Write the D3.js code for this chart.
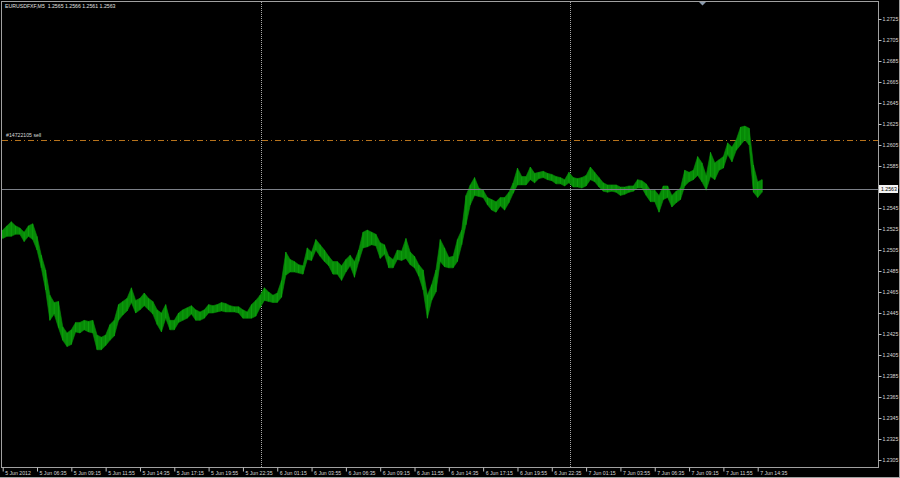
<!DOCTYPE html>
<html><head><meta charset="utf-8">
<script src="https://cdn.jsdelivr.net/npm/d3@7"></script>
<style>html,body{margin:0;padding:0;background:#000;overflow:hidden}svg{display:block}</style>
</head><body>
<svg id="c" width="900" height="478"></svg>
<script>
// ---- data ----
const symbolTitle = "EURUSDFXF,M5  1.2565 1.2566 1.2561 1.2563";
const startTime = "2012-06-05 03:55";
const stepMinutes = 20;
const highs = [1.2524,1.2528,1.2532,1.2528,1.2526,1.2522,1.2528,1.2530,1.2518,1.2500,
1.2486,1.2462,1.2455,1.2456,1.2432,1.2426,1.2429,1.2436,1.2436,1.2438,
1.2437,1.2438,1.2424,1.2422,1.2424,1.2434,1.2438,1.2453,1.2456,1.2459,
1.2469,1.2457,1.2459,1.2464,1.2459,1.2456,1.2448,1.2445,1.2453,1.2438,
1.2438,1.2445,1.2448,1.2450,1.2452,1.2448,1.2446,1.2448,1.2453,1.2452,
1.2453,1.2455,1.2454,1.2452,1.2451,1.2451,1.2448,1.2446,1.2453,1.2457,
1.2462,1.2469,1.2465,1.2462,1.2464,1.2476,1.2503,1.2496,1.2494,1.2491,
1.2490,1.2507,1.2503,1.2515,1.2510,1.2505,1.2499,1.2494,1.2494,1.2490,
1.2496,1.2500,1.2494,1.2505,1.2522,1.2524,1.2522,1.2520,1.2512,1.2510,
1.2499,1.2496,1.2505,1.2504,1.2516,1.2503,1.2499,1.2491,1.2486,1.2462,
1.2472,1.2486,1.2515,1.2507,1.2498,1.2499,1.2515,1.2524,1.2557,1.2567,
1.2574,1.2564,1.2562,1.2555,1.2553,1.2551,1.2555,1.2555,1.2560,1.2569,
1.2583,1.2575,1.2575,1.2584,1.2578,1.2579,1.2580,1.2578,1.2577,1.2575,
1.2574,1.2572,1.2579,1.2574,1.2573,1.2574,1.2576,1.2584,1.2579,1.2574,
1.2569,1.2567,1.2567,1.2567,1.2565,1.2565,1.2566,1.2566,1.2572,1.2571,
1.2568,1.2562,1.2562,1.2557,1.2566,1.2566,1.2557,1.2561,1.2564,1.2581,
1.2579,1.2581,1.2594,1.2588,1.2576,1.2598,1.2588,1.2591,1.2594,1.2607,
1.2603,1.2610,1.2622,1.2623,1.2621,1.2586,1.2570,1.2572];
const lows = [1.2516,1.2518,1.2518,1.2520,1.2520,1.2513,1.2518,1.2515,1.2505,1.2488,
1.2467,1.2438,1.2444,1.2431,1.2419,1.2413,1.2415,1.2427,1.2426,1.2429,
1.2427,1.2426,1.2410,1.2410,1.2414,1.2419,1.2423,1.2438,1.2443,1.2447,
1.2455,1.2445,1.2448,1.2452,1.2448,1.2444,1.2434,1.2427,1.2440,1.2429,
1.2429,1.2436,1.2438,1.2440,1.2444,1.2438,1.2438,1.2440,1.2445,1.2445,
1.2446,1.2447,1.2446,1.2446,1.2446,1.2445,1.2440,1.2440,1.2440,1.2442,
1.2450,1.2457,1.2456,1.2455,1.2455,1.2460,1.2481,1.2484,1.2484,1.2483,
1.2482,1.2496,1.2495,1.2505,1.2499,1.2494,1.2490,1.2482,1.2482,1.2476,
1.2484,1.2490,1.2479,1.2494,1.2507,1.2508,1.2510,1.2509,1.2497,1.2501,
1.2488,1.2488,1.2496,1.2495,1.2497,1.2491,1.2488,1.2480,1.2467,1.2440,
1.2457,1.2465,1.2494,1.2489,1.2488,1.2488,1.2494,1.2510,1.2529,1.2548,
1.2557,1.2556,1.2555,1.2548,1.2543,1.2541,1.2547,1.2543,1.2550,1.2559,
1.2567,1.2567,1.2567,1.2572,1.2569,1.2573,1.2574,1.2572,1.2571,1.2568,
1.2568,1.2566,1.2569,1.2565,1.2565,1.2564,1.2566,1.2572,1.2570,1.2565,
1.2561,1.2560,1.2561,1.2560,1.2557,1.2558,1.2560,1.2561,1.2564,1.2564,
1.2557,1.2551,1.2551,1.2541,1.2553,1.2555,1.2546,1.2550,1.2553,1.2566,
1.2570,1.2572,1.2576,1.2570,1.2562,1.2575,1.2572,1.2581,1.2583,1.2596,
1.2589,1.2600,1.2605,1.2610,1.2605,1.2560,1.2555,1.2560];
const priceTicks = [1.2305,1.2325,1.2345,1.2365,1.2385,1.2405,1.2425,1.2445,1.2465,1.2485,
1.2505,1.2525,1.2545,1.2565,1.2585,1.2605,1.2625,1.2645,1.2665,1.2685,1.2705,1.2725];
const timeTicks = ["2012-06-05 03:55","2012-06-05 06:35","2012-06-05 09:15","2012-06-05 11:55","2012-06-05 14:35",
"2012-06-05 17:15","2012-06-05 19:55","2012-06-05 22:35","2012-06-06 01:15","2012-06-06 03:55",
"2012-06-06 06:35","2012-06-06 09:15","2012-06-06 11:55","2012-06-06 14:35","2012-06-06 17:15",
"2012-06-06 19:55","2012-06-06 22:35","2012-06-07 01:15","2012-06-07 03:55","2012-06-07 06:35",
"2012-06-07 09:15","2012-06-07 11:55","2012-06-07 14:35"];
const timeLabels = ["5 Jun 2012","5 Jun 06:35","5 Jun 09:15","5 Jun 11:55","5 Jun 14:35","5 Jun 17:15",
"5 Jun 19:55","5 Jun 22:35","6 Jun 01:15","6 Jun 03:55","6 Jun 06:35","6 Jun 09:15","6 Jun 11:55",
"6 Jun 14:35","6 Jun 17:15","6 Jun 19:55","6 Jun 22:35","7 Jun 01:15","7 Jun 03:55","7 Jun 06:35",
"7 Jun 09:15","7 Jun 11:55","7 Jun 14:35"];
const daySeparators = ["2012-06-06 00:00","2012-06-07 00:00"];
const currentPrice = 1.2563;
const orderPrice = 1.2610;
const orderLabel = "#14722105 sell";

// ---- drawing ----
const parse = d3.timeParse("%Y-%m-%d %H:%M");
const t0 = parse(startTime);
const bars = highs.map((h,i)=>({t:d3.timeMinute.offset(t0,i*stepMinutes),h:h,l:lows[i]}));

const svg = d3.select("#c");
const font = "'Liberation Sans', Arial, sans-serif";
const plot = {l:2, t:1, r:878.5, b:467.5};

const x = d3.scaleTime().domain([parse("2012-06-05 03:55"), parse("2012-06-07 14:35")]).range([2.7, 757.7]);
const y = d3.scaleLinear().domain([1.2305, 1.2725]).range([460, 19]);

svg.append("rect").attr("width",900).attr("height",478).attr("fill","#000");

// day separators
svg.selectAll("line.sep").data(daySeparators).enter().append("line")
  .attr("x1",d=>Math.round(x(parse(d)))+0.5).attr("x2",d=>Math.round(x(parse(d)))+0.5)
  .attr("y1",plot.t+1).attr("y2",plot.b)
  .attr("stroke","#a8a8a8").attr("stroke-width",1).attr("stroke-dasharray","1,1");

// order line
svg.append("line").attr("x1",plot.l).attr("x2",plot.r)
  .attr("y1",Math.round(y(orderPrice))+0.5).attr("y2",Math.round(y(orderPrice))+0.5)
  .attr("stroke","#b8731c").attr("stroke-width",1).attr("stroke-dasharray","6,3,1,3");
svg.append("text").attr("x",6).attr("y",Math.round(y(orderPrice))-3)
  .attr("fill","#d8d8d8").attr("font-family",font).attr("font-size",5.2).text(orderLabel);

// price band (M5 bars high-low)
const area = d3.area().x(d=>x(d.t)).y0(d=>y(d.l)).y1(d=>y(d.h)).curve(d3.curveLinear);
svg.append("path").datum(bars).attr("d",area)
  .attr("fill","#078a07").attr("stroke","#078a07").attr("stroke-width",0.6);
svg.selectAll("line.bar").data(bars).enter().append("line")
  .attr("x1",d=>x(d.t)).attr("x2",d=>x(d.t)).attr("y1",d=>y(d.h)).attr("y2",d=>y(d.l))
  .attr("stroke","#0ea00e").attr("stroke-width",1);

// current price line
svg.append("line").attr("x1",plot.l).attr("x2",plot.r)
  .attr("y1",Math.round(y(currentPrice))+0.5).attr("y2",Math.round(y(currentPrice))+0.5)
  .attr("stroke","#7c8088").attr("stroke-width",1);

// frame
svg.append("rect").attr("x",plot.l-0.5).attr("y",plot.t+0.5).attr("width",plot.r-plot.l+0.5).attr("height",plot.b-plot.t-0.5)
  .attr("fill","none").attr("stroke","#a0a0a0").attr("stroke-width",1);
svg.append("line").attr("x1",0).attr("x2",900).attr("y1",477.5).attr("y2",477.5).attr("stroke","#a0a0a0");
svg.append("line").attr("x1",899.5).attr("x2",899.5).attr("y1",0).attr("y2",478).attr("stroke","#a0a0a0");

// right axis
const ya = d3.axisRight(y).tickValues(priceTicks).tickSize(3).tickFormat(d3.format(".4f"));
const gy = svg.append("g").attr("transform",`translate(${plot.r},0)`).call(ya);
gy.select(".domain").remove();
gy.selectAll("line").attr("stroke","#c0c0c0");
gy.selectAll("text").attr("fill","#d8d8d8").attr("font-family",font).attr("font-size",5.2).attr("x",4).attr("dy","0.35em");

// current price box
const cy = Math.round(y(currentPrice));
svg.append("rect").attr("x",879).attr("y",cy-4).attr("width",19).attr("height",8).attr("fill","#f4f4f4");
svg.append("text").attr("x",881).attr("y",cy+2).attr("fill","#000").attr("font-family",font).attr("font-size",5.2).text(d3.format(".4f")(currentPrice));

// bottom axis
const xa = d3.axisBottom(x).tickValues(timeTicks.map(parse)).tickSize(4)
  .tickFormat((d,i)=>timeLabels[i]);
const gx = svg.append("g").attr("transform",`translate(0,${plot.b})`).call(xa);
gx.select(".domain").remove();
gx.selectAll("line").attr("stroke","#c0c0c0");
gx.selectAll("text").attr("fill","#d8d8d8").attr("font-family",font).attr("font-size",5.2)
  .attr("text-anchor","start").attr("x",2).attr("y",4).attr("dy","0.71em");

// title
svg.append("text").attr("x",5).attr("y",8).attr("fill","#e0e0e0").attr("font-family",font).attr("font-size",5.2)
  .attr("xml:space","preserve").style("white-space","pre").text(symbolTitle);

// chart shift marker
svg.append("path").attr("d","M699,2 L706,2 L702.5,5.5 Z").attr("fill","#8a9aac");
</script>
</body></html>
